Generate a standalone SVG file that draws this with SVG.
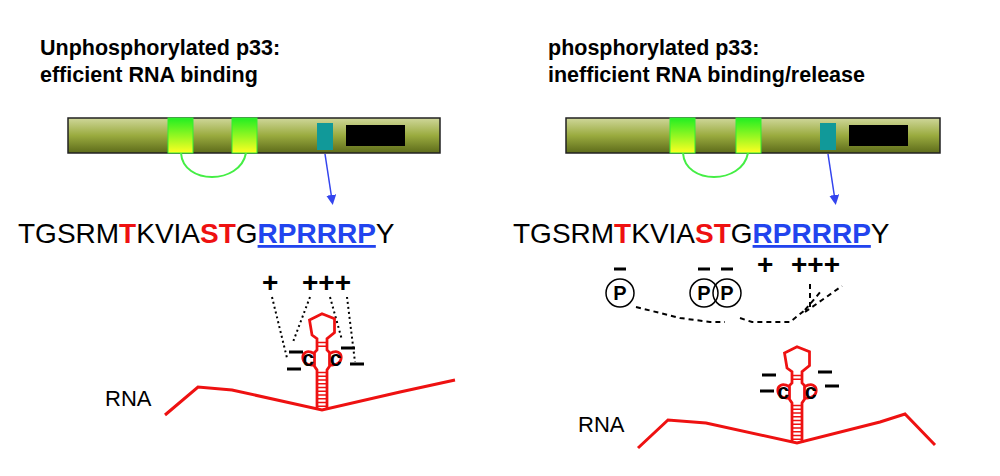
<svg xmlns="http://www.w3.org/2000/svg" width="1000" height="476" viewBox="0 0 1000 476">
<defs>
<linearGradient id="bar" x1="0" y1="0" x2="0" y2="1"><stop offset="0" stop-color="#cfd79a"/><stop offset="0.5" stop-color="#9aab3f"/><stop offset="1" stop-color="#5d6b1a"/></linearGradient>
<linearGradient id="dom" x1="0" y1="0" x2="0" y2="1"><stop offset="0" stop-color="#22ee22"/><stop offset="1" stop-color="#ffff22"/></linearGradient>
<marker id="ah" markerWidth="10" markerHeight="10" refX="5" refY="5" orient="auto" markerUnits="userSpaceOnUse"><path d="M0,0 L10,5 L0,10 z" fill="#3344ee"/></marker>
<g id="stem">
<path d="M-4,0 L-4,-32 L-6,-35 L-6,-46 L-4,-48 L-4,-57 L-8,-60 L-10,-72 L0,-77 L10,-73 L10,-62 L4,-57 L4,-48 L6,-46 L6,-35 L4,-32 L4,0" fill="none" stroke="#ee1111" stroke-width="2.2"/>
<path d="M-4,-3h8M-4,-6h8M-4,-9h8M-4,-12h8M-4,-15h8M-4,-18h8M-4,-21h8M-4,-24h8M-4,-27h8M-4,-30h8M-4,-51h8M-4,-54h8" stroke="#ee1111" stroke-width="1.3"/>
<path d="M-6,-45 C-18,-52 -19,-34 -6,-36 M6,-45 C18,-52 19,-34 6,-36" fill="none" stroke="#ee1111" stroke-width="2.2"/>
<text x="-11" y="-35" class="c">c</text><text x="11" y="-35" class="c">c</text>
</g>
</defs>
<style>
.t{font-family:"Liberation Sans",Arial,sans-serif;font-weight:bold;font-size:21.5px;fill:#000}
.s{font-family:"Liberation Sans",Arial,sans-serif;font-size:28px;fill:#000}
.r{fill:#ee1111;font-weight:bold}
.b{fill:#2244ee;font-weight:bold;text-decoration:underline}
.c{font-family:"Liberation Sans",Arial,sans-serif;font-weight:bold;font-size:17px;text-anchor:middle;fill:#000}
.pm{font-family:"Liberation Sans",Arial,sans-serif;font-weight:bold;font-size:28px;fill:#000}
.lab{font-family:"Liberation Sans",Arial,sans-serif;font-size:22px;fill:#000}
.dot{fill:none;stroke:#000;stroke-width:2;stroke-dasharray:2 3}
.dash{fill:none;stroke:#000;stroke-width:2;stroke-dasharray:5 4}
.rna{fill:none;stroke:#ee1111;stroke-width:3}
.min{stroke:#000;stroke-width:3}
</style>
<rect width="1000" height="476" fill="#fff"/>
<g id="left">
<text class="t" x="40" y="55">Unphosphorylated p33:</text>
<text class="t" x="40" y="82">efficient RNA binding</text>
<rect x="68" y="118" width="372" height="35" fill="url(#bar)" stroke="#222" stroke-width="1.5"/>
<rect x="168" y="118" width="25" height="35" fill="url(#dom)" stroke="#33ee33"/>
<rect x="232" y="118" width="25" height="35" fill="url(#dom)" stroke="#33ee33"/>
<rect x="317" y="123" width="16" height="27" fill="#119999"/>
<rect x="346" y="125" width="59" height="21" fill="#000"/>
<path d="M181,153 C183,185 240,185 246,153" fill="none" stroke="#44ee44" stroke-width="2"/>
<line x1="325" y1="154" x2="332" y2="200" stroke="#3344ee" stroke-width="1.5" marker-end="url(#ah)"/>
<text class="s" x="18" y="243">TGSRM<tspan class="r">T</tspan>KVIA<tspan class="r">ST</tspan>G<tspan class="b">RPRRRP</tspan>Y</text>
<text class="pm" x="262" y="292">+</text><text class="pm" x="302" y="292">+++</text>
<path class="dot" d="M272,297 L287,358 M310,297 L293,342 M330,297 L342,340 M347,297 L355,362"/>
<path class="rna" d="M165,415 L198,387 L232,390 L322,410 L400,392 L455,380"/>
<g transform="translate(322,410) scale(1.25)"><use href="#stem"/></g>
<path class="min" d="M289,352h14M287,369h14M341,348h14M350,364h14"/>
<text class="lab" x="105" y="406">RNA</text>
</g>
<g id="right">
<text class="t" x="548" y="55">phosphorylated p33:</text>
<text class="t" x="548" y="82">inefficient RNA binding/release</text>
<rect x="566" y="118" width="374" height="35" fill="url(#bar)" stroke="#222" stroke-width="1.5"/>
<rect x="670" y="118" width="25" height="35" fill="url(#dom)" stroke="#33ee33"/>
<rect x="736" y="118" width="25" height="35" fill="url(#dom)" stroke="#33ee33"/>
<rect x="820" y="123" width="16" height="27" fill="#119999"/>
<rect x="849" y="125" width="59" height="21" fill="#000"/>
<path d="M683,153 C685,185 742,185 748,153" fill="none" stroke="#44ee44" stroke-width="2"/>
<line x1="828" y1="154" x2="835" y2="200" stroke="#3344ee" stroke-width="1.5" marker-end="url(#ah)"/>
<text class="s" x="513" y="243">TGSRM<tspan class="r">T</tspan>KVIA<tspan class="r">ST</tspan>G<tspan class="b">RPRRRP</tspan>Y</text>
<circle cx="620" cy="293" r="14" fill="none" stroke="#000" stroke-width="1.5"/>
<circle cx="704" cy="293" r="14" fill="none" stroke="#000" stroke-width="1.5"/>
<circle cx="727" cy="293" r="14" fill="none" stroke="#000" stroke-width="1.5"/>
<text class="c" style="font-size:20px" x="620" y="300">P</text>
<text class="c" style="font-size:20px" x="704" y="300">P</text>
<text class="c" style="font-size:20px" x="727" y="300">P</text>
<path class="min" d="M614,269h12M698,269h12M721,269h12"/>
<text class="pm" x="757" y="274">+</text><text class="pm" x="791" y="274">+++</text>
<path class="dash" d="M636,307 L680,318 L710,322 L725,322 M740,318 L752,322 L790,322 L805,310 M810,307 L810,283 M805,310 L822,290 M805,312 L842,286"/>
<path class="rna" d="M638,448 L668,420 L706,423 L797,443 L880,422 L905,414 L935,445"/>
<g transform="translate(797,443) scale(1.25)"><use href="#stem"/></g>
<path class="min" d="M762,375h14M760,391h14M818,372h14M825,386h14"/>
<text class="lab" x="578" y="432">RNA</text>
</g>
</svg>
